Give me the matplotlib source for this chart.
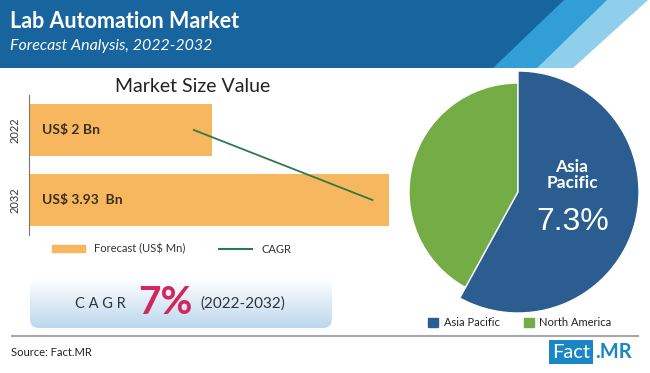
import numpy as np
import matplotlib.pyplot as plt
from matplotlib.patches import Polygon, Rectangle, FancyBboxPatch, Patch
from matplotlib.lines import Line2D
from matplotlib.colors import LinearSegmentedColormap

# data
years = ['2022', '2032']
market_size = [2.0, 3.93]
bar_labels = ['US$ 2 Bn', 'US$ 3.93  Bn']
cagr_line_x = [1.80, 3.75]
regions = ['North America', 'Asia Pacific']
region_share = [42, 58]
region_colors = ['#74ad45', '#2b5d90']
cagr = '7%'
ap_cagr = '7.3%'

W, H = 650, 373
plt.rcParams['font.family'] = ['Lato', 'DejaVu Sans']

fig = plt.figure(figsize=(6.5, 3.73), dpi=100)
fig.patch.set_facecolor('white')


def frac(x0, y0, x1, y1):
    return [x0 / W, 1 - y1 / H, (x1 - x0) / W, (y1 - y0) / H]


bg = fig.add_axes([0, 0, 1, 1])
bg.set_xlim(0, W)
bg.set_ylim(H, 0)
bg.axis('off')

# header band
bg.add_patch(Polygon([(0, 0), (648, 0), (573, 68), (0, 68)], closed=True, color='#8fcfec', lw=0))
bg.add_patch(Polygon([(0, 0), (607, 0), (537, 68), (0, 68)], closed=True, color='#2f9fd6', lw=0))
bg.add_patch(Polygon([(0, 0), (564, 0), (493, 68), (0, 68)], closed=True, color='#17649f', lw=0))
bg.text(10, 21, 'Lab Automation Market', color='white', fontsize=15.5, fontweight='bold', va='center')
bg.text(10, 46, 'Forecast Analysis, 2022-2032', color='white', fontsize=11.5, style='italic',
        va='center')

bg.text(193, 86, 'Market Size Value', fontsize=14, color='#222222', ha='center', va='center')

# CAGR box with gradient
box = FancyBboxPatch((30, 278), 302, 50, boxstyle='round,pad=0,rounding_size=9',
                     fc='none', ec='none')
bg.add_patch(box)
grad = np.linspace(0, 1, 100).reshape(-1, 1)
cmap = LinearSegmentedColormap.from_list('g', ['#ffffff', '#bcd7ee'])
im = bg.imshow(grad, cmap=cmap, extent=(30, 332, 328, 278), aspect='auto', zorder=1)
im.set_clip_path(box)
bg.set_xlim(0, W)
bg.set_ylim(H, 0)
bg.text(100, 304, 'C A G R', fontsize=10.5, color='#333333', ha='center', va='center', zorder=3)
bg.text(165, 302, cagr, fontsize=28, color='#d3265e', fontweight='bold', ha='center',
        va='center', zorder=3)
bg.text(243, 304, '(2022-2032)', fontsize=11, color='#333333', ha='center', va='center', zorder=3)

# separator and footer
bg.plot([12, 638], [336, 336], color='#a8a8a8', lw=1.5)
bg.text(11, 353, 'Source: Fact.MR', fontsize=8, color='#222222', va='center')
bg.add_patch(Rectangle((549, 340), 44, 24, color='#1b86c6', lw=0))
bg.text(571, 352, 'Fact', fontsize=14.5, color='white', ha='center', va='center')
bg.text(595, 352, '.MR', fontsize=14.5, color='#1b86c6', fontweight='bold', va='center')

# bar chart
ax = fig.add_axes(frac(29, 95, 399, 235))
ypos = np.arange(len(years))
ax.barh(ypos, market_size, height=0.74, color='#f7b75f', zorder=2)
ax.plot(cagr_line_x, ypos, color='#2d7a4c', lw=1.3, zorder=3)
for y, lab in zip(ypos, bar_labels):
    ax.text(0.14, y, lab, fontsize=10, fontweight='bold', color='#3b2f22', va='center', zorder=4)
ax.set_xlim(0, 4.04)
ax.set_ylim(1.5, -0.5)
ax.set_yticks(ypos)
ax.set_yticklabels(years, rotation=90, va='center', fontsize=8, color='#333333')
ax.tick_params(axis='y', length=0, pad=6)
ax.set_xticks([])
for s in ['top', 'right', 'bottom']:
    ax.spines[s].set_visible(False)
ax.spines['left'].set_color('#777777')
ax.patch.set_alpha(0)

handles = [Patch(color='#f7b75f'), Line2D([], [], color='#2d7a4c', lw=1.5)]
fig.legend(handles, ['Forecast (US$ Mn)', 'CAGR'], loc='center left',
           bbox_to_anchor=(42 / W, 1 - 249 / H), ncol=2, frameon=False, fontsize=8,
           handlelength=3, handleheight=0.6, columnspacing=3, handletextpad=0.8,
           labelcolor='#333333')

# pie
pax = fig.add_axes(frac(390, 68, 650, 335))
wedges, _ = pax.pie(region_share, colors=region_colors, startangle=90, counterclock=True,
                    center=(518, H - 192), radius=109, frame=True,
                    wedgeprops=dict(edgecolor='white', linewidth=1))
wedges[1].set_radius(121)
pax.set_xlim(390, 650)
pax.set_ylim(H - 335, H - 68)
pax.axis('off')
pax.text(572, H - 175, 'Asia\nPacific', color='white', fontsize=12.5, fontweight='bold',
         ha='center', va='center', linespacing=1.0)
pax.text(573, H - 222, ap_cagr, color='white', fontsize=23, ha='center', va='center',
         family=['Liberation Sans'])

leg_handles = [Patch(color=region_colors[1]), Patch(color=region_colors[0])]
fig.legend(leg_handles, ['Asia Pacific', 'North America'], loc='center left',
           bbox_to_anchor=(418 / W, 1 - 323 / H), ncol=2, frameon=False, fontsize=8,
           handlelength=0.9, handleheight=0.9, columnspacing=2.2, handletextpad=0.5,
           labelcolor='#222222')

fig.savefig('out.png', dpi=100)
